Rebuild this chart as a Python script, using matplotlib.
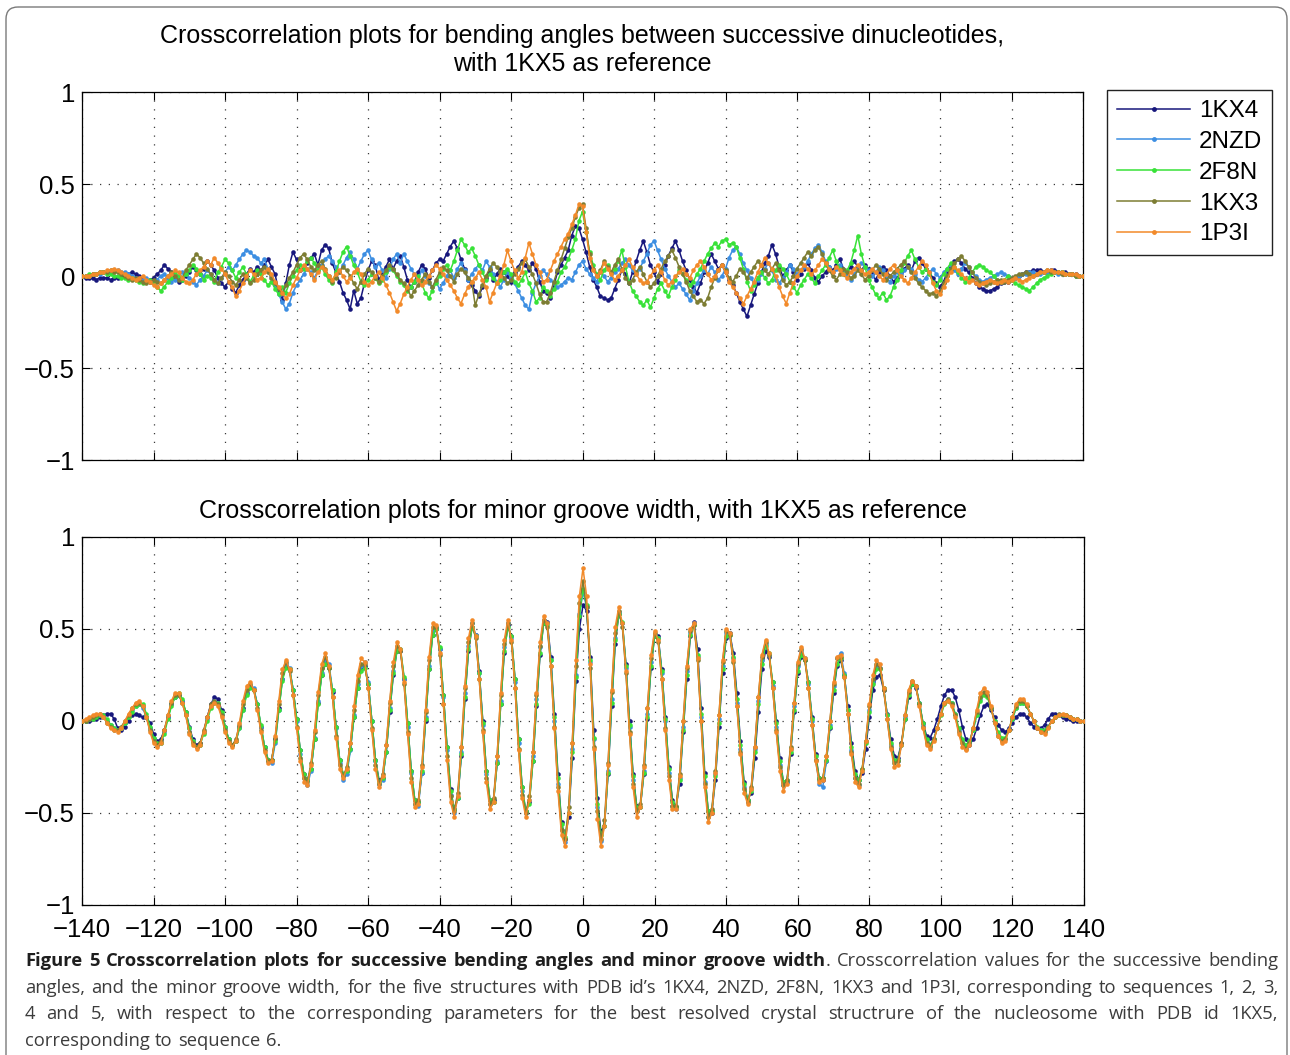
import matplotlib
matplotlib.use("Agg")
import matplotlib.pyplot as plt
import numpy as np
from matplotlib.lines import Line2D
from matplotlib.patches import FancyBboxPatch

plt.rcParams["font.family"] = ["Liberation Sans", "DejaVu Sans"]

W, H = 1290, 1055
LAGS = np.arange(-140, 141)
SERIES = ["1KX4", "2NZD", "2F8N", "1KX3", "1P3I"]
COLORS = ["#17177c", "#3c8ee2", "#38e238", "#7d7d33", "#f28a2a"]

# crosscorrelation values in hundredths, lag -140 .. 140 (one row = 10 lags)
BEND_1KX4 = [
    0, -1, -1, -1, -2, -1, -1, -1, -2, -1,
    -1, 0, 0, 1, 2, 1, 0, -1, -2, -2,
    -1, 1, 3, 6, 4, 2, -1, -3, -2, 0,
    2, 5, 3, 1, 4, 8, 6, 3, -1, -4,
    -6, -3, -7, -9, -5, -2, 1, 4, 2, 5,
    3, 6, 9, 5, 1, -8, -13, -4, 6, 13,
    9, 3, 5, 7, 10, 12, 6, 14, 17, 15,
    7, 2, -3, -9, -13, -18, -8, -15, -12, -4,
    3, 8, 6, -2, 1, 5, 9, 4, 8, 11,
    5, -2, -6, -3, 2, 6, 4, -1, 3, 7,
    9, 8, 12, 16, 19, 15, 9, 4, -2, -5,
    -8, -11, -6, -1, 3, -2, 1, 4, 2, 0,
    -3, 2, 5, 8, 6, 3, 7, 4, -3, -8,
    -9, -12, -5, 2, 6, 10, 14, 22, 27, 26,
    20,
    13, 5, -2, -6, -11, -12, -13, -12, -7, -2,
    3, 1, -4, 2, 8, 14, 19, 13, 6, 2,
    -3, 1, 6, 11, 15, 19, 14, 8, 3, -2,
    -6, -9, -4, 2, 7, 12, 8, 4, 6, 2,
    -2, -5, -9, -14, -18, -22, -16, -10, -4, 2,
    7, 11, 17, 12, 5, 0, 3, 6, 2, -2,
    1, 4, 7, 3, -1, -3, 0, 2, 5, 3,
    6, 9, 4, 2, 5, 8, 5, 3, 6, 4,
    1, -2, 2, 5, 3, 0, -3, -1, 2, 4,
    6, 3, 8, 10, 7, 4, 2, -1, -4, -6,
    -3, 2, 5, 8, 9, 7, 4, 2, -1, -4,
    -6, -7, -8, -8, -7, -6, -4, -3, -3, -2,
    -1, 0, 1, 2, 2, 3, 3, 3, 2, 2,
    3, 3, 2, 2, 2, 1, 1, 1, 0, 0,
]
BEND_2NZD = [
    0, 0, 0, 1, 1, 1, 2, 2, 2, 3,
    3, 2, 2, 1, 0, -1, -2, -2, -1, -3,
    -4, -2, 0, 1, -1, -3, -2, 0, 2, 1,
    -1, -3, -5, -2, 0, 3, 1, -2, -4, -1,
    2, 5, 3, 6, 9, 12, 14, 13, 11, 10,
    7, 9, 4, 0, -5, -10, -14, -18, -15, -9,
    -5, -2, 1, 4, 2, -1, 3, 6, 9, 11,
    8, 5, 2, 6, 10, 13, 9, 4, 8, 12,
    14, 9, 5, 7, 3, -1, 4, 9, 12, 7,
    12, 8, 4, 1, -2, 3, 0, -4, -6, -3,
    -7, -4, 0, 3, -1, 4, 7, 3, -2, 1,
    4, 6, 3, 8, 5, 1, -3, -6, -2, 2,
    -1, -4, -8, -12, -16, -18, -9, -4, 0, 3,
    1, -2, -4, -6, -5, -3, -1, -2, 2, 6,
    8,
    4, 1, -1, -3, 2, 0, -3, -1, 2, 4,
    7, 9, 6, 3, 1, 4, 8, 12, 17, 19,
    14, 9, 4, 0, -3, -6, -4, -7, -10, -13,
    -8, -4, 0, 3, 1, 5, 2, -2, 0, 4,
    10, 14, 16, 12, 7, 3, -1, -4, -2, 1,
    4, 7, 3, -2, -4, -1, 2, 6, 4, 1,
    3, 5, 8, 12, 15, 17, 13, 8, 5, 2,
    4, 6, 3, 0, -2, 1, 4, 7, 5, 3,
    0, 2, 5, 3, -1, -3, 0, 2, 1, 3,
    5, 4, 1, -2, -3, -1, 2, 4, 1, -1,
    2, 4, 6, 3, 1, 4, 7, 5, 2, 0,
    -2, -3, -2, -1, 0, 1, 2, 1, 0, -1,
    -1, 0, 1, 1, 2, 2, 1, 1, 2, 2,
    2, 2, 1, 2, 1, 1, 1, 0, 0, 0,
]
BEND_2F8N = [
    0, 0, 1, 1, 1, 2, 2, 1, 1, 0,
    0, -1, -1, -2, -1, -2, -3, -4, -3, -2,
    -4, -6, -8, -6, -3, -1, 2, 0, -2, 1,
    3, 6, 4, 1, -2, 0, -1, -3, 2, 5,
    9, 7, 3, -1, 2, 5, 1, -3, 0, 3,
    1, -2, -5, -3, -7, -10, -6, -9, -4, 0,
    3, 6, 4, 8, 10, 7, 3, 5, 1, -2,
    -4, 2, 8, 13, 16, 11, 6, 2, -3, -5,
    -2, 1, -1, -4, -2, 2, 5, 3, 0, -3,
    -5, -8, -6, -3, 0, -4, -9, -12, -8, -4,
    0, 4, 6, 3, 8, 14, 20, 17, 13, 15,
    11, 6, 2, -2, 1, -1, -4, -2, 2, 4,
    1, -3, -5, -2, 2, -4, -8, -14, -12, -6,
    -8, -11, -7, -3, 2, 5, 9, 14, 20, 30,
    35,
    24, 13, 6, 1, -2, 3, 6, 2, 4, 8,
    14, 5, -3, -8, -11, -14, -16, -13, -17, -12,
    -7, -4, -8, -11, -6, -2, 3, 1, -2, -5,
    -3, 1, 4, 8, 12, 15, 18, 16, 19, 20,
    17, 18, 16, 10, 4, -3, -8, -5, -1, 2,
    -1, -4, -2, 3, 6, 4, 1, -3, -6, -9,
    -5, -2, 1, -1, -4, 0, 3, 6, 10, 14,
    8, 4, 1, 3, 7, 14, 22, 12, 5, -2,
    -6, -10, -12, -9, -13, -11, -6, -2, 3, 7,
    11, 14, 9, 5, 2, 4, 1, -3, -5, -2,
    1, 4, 7, 5, 2, -1, -3, -1, 2, 5,
    6, 5, 3, 2, 0, -2, -3, -2, 0, -2,
    -4, -5, -6, -7, -8, -6, -4, -2, -1, 0,
    1, 2, 2, 2, 1, 1, 1, 0, 0, 0,
]
BEND_1KX3 = [
    0, 0, 0, 1, 1, 2, 2, 2, 3, 2,
    2, 1, 0, -1, -2, -1, -2, -3, -4, -3,
    -2, -3, -4, -2, 0, 2, 0, -2, -1, 3,
    6, 9, 12, 10, 7, 4, 1, -2, -4, -1,
    2, 0, -3, -5, -2, 1, -1, -4, -2, 1,
    3, 5, 2, -1, -4, -7, -9, -5, -1, 2,
    6, 10, 12, 9, 5, 3, 6, 8, 4, 0,
    -3, -1, 2, 5, 3, 0, -4, -7, -3, 1,
    4, 2, -1, -3, 0, 3, 6, 4, 1, -2,
    -4, -7, -11, -8, -5, -2, 1, -3, -6, -2,
    2, 5, 3, 0, -3, 1, 4, 2, -1, -3,
    -16, -10, -5, 0, 4, 7, 5, 2, -1, -4,
    -2, 1, 4, 7, 9, 5, 1, -4, -10, -14,
    -14, -9, -3, 3, 9, 15, 21, 26, 32, 37,
    39,
    26, 12, 4, 0, 3, 8, 5, 2, 6, 9,
    4, -1, -4, -2, 2, 5, 1, -3, -6, -4,
    0, 4, 8, 11, 14, 10, 5, 1, -3, -8,
    -11, -14, -13, -15, -12, -6, -1, 3, 6, 3,
    -1, -3, 0, 4, 2, -1, 2, 5, 8, 6,
    3, 1, 4, 7, 3, -2, -5, -3, 0, 4,
    7, 10, 13, 11, 14, 16, 12, 7, 3, 0,
    -2, 1, 4, 2, -1, 0, 3, 1, -2, 0,
    3, 6, 4, 1, -2, 0, 2, 4, 6, 8,
    5, 2, -1, -4, -6, -8, -10, -9, -11, -8,
    -4, 0, 4, 7, 9, 11, 8, 5, 2, -1,
    -3, -4, -5, -4, -3, -2, -2, -3, -2, -1,
    0, 1, 1, 2, 1, 0, 1, 2, 2, 3,
    2, 2, 2, 1, 1, 1, 1, 0, 0, 0,
]
BEND_1P3I = [
    0, 0, 0, 1, 1, 2, 2, 3, 3, 4,
    3, 2, 1, 0, -1, -2, -1, 0, -2, -3,
    -5, -6, -4, -2, 0, 1, 3, 2, -1, -3,
    -4, -2, 1, 3, 5, 8, 6, 10, 7, 4,
    1, -3, -6, -11, -8, -4, 0, 3, 1, -2,
    -1, 2, 4, 1, -3, -6, -9, -12, -10, -5,
    -1, 3, 6, 4, 1, -2, 2, 5, 3, 0,
    -2, 1, 3, 0, -3, -1, 2, 4, 1, -3,
    -5, -3, 0, 2, -1, -5, -9, -14, -19, -15,
    -10, -6, -2, 1, -2, -5, -3, 0, 3, 6,
    4, 1, -2, -5, -8, -12, -15, -10, -6, -3,
    -1, 2, -2, -6, -14, -9, -4, 0, 6, 14,
    8, 3, -1, 2, 10, 18, 12, 6, 2, -3,
    -2, 3, 8, 12, 16, 20, 23, 28, 33, 39,
    38,
    24, 10, 3, 0, 2, 7, 4, 1, -2, 0,
    3, 6, 9, 5, 1, -2, -4, -3, 0, 3,
    6, 2, -2, -5, -3, 0, 2, 4, 1, -1,
    3, 6, 8, 5, 1, -2, 0, 3, 6, 2,
    -3, -6, -9, -12, -15, -11, -7, -3, 2, 6,
    10, 7, 4, 0, -6, -11, -15, -9, -4, 0,
    3, 6, 4, 1, 3, 6, 9, 7, 4, 2,
    5, 3, 1, -1, 2, 4, 6, 3, 1, 2,
    4, 2, 0, -2, 1, 4, 6, 3, 0, -2,
    -4, -1, 2, 5, 8, 6, 2, -4, -8, -10,
    -6, -2, 2, 5, 3, 1, -1, -3, -2, -4,
    -5, -4, -3, -2, -3, -4, -3, -2, -3, -2,
    -1, -2, -3, -2, -1, 0, 1, 2, 2, 3,
    3, 2, 2, 2, 1, 1, 1, 1, 0, 0,
]

GROOVE_1KX4 = [
    0, 0, 0, 1, 1, 2, 3, 4, 4, 1,
    -4, -5, -3, 0, 3, 4, 3, 2, 2, -1,
    -7, -11, -10, -5, 2, 9, 13, 14, 11, 5,
    -3, -10, -13, -12, -6, 2, 9, 13, 12, 6,
    -3, -10, -13, -11, -3, 7, 15, 19, 17, 9,
    -3, -14, -21, -21, -10, 7, 23, 30, 28, 17,
    1, -16, -29, -32, -26, -10, 10, 25, 31, 29,
    16, -3, -21, -29, -27, -15, 2, 18, 28, 30,
    20, 0, -21, -32, -31, -17, 5, 25, 38, 38,
    23, -1, -27, -43, -44, -28, 0, 28, 47, 50,
    39, 14, -14, -37, -48, -42, -19, 12, 38, 51,
    47, 27, 0, -27, -43, -43, -23, 9, 37, 52,
    46, 23, -10, -36, -49, -44, -22, 8, 36, 53,
    54, 35, 4, -29, -55, -64, -52, -20, 22, 50,
    63,
    60, 35, -5, -42, -60, -57, -29, 8, 42, 58,
    53, 31, 0, -29, -46, -47, -29, 1, 29, 46,
    46, 28, 2, -25, -43, -47, -34, -6, 23, 46,
    54, 39, 7, -28, -49, -50, -32, -3, 26, 45,
    48, 37, 15, -11, -33, -43, -39, -20, 5, 28,
    38, 35, 21, 0, -20, -33, -33, -18, 5, 26,
    35, 33, 21, 2, -18, -31, -32, -22, -4, 15,
    30, 33, 25, 8, -12, -27, -32, -28, -15, 2,
    17, 24, 25, 17, 4, -10, -19, -20, -12, 1,
    13, 20, 18, 10, -1, -8, -9, -5, 1, 8,
    14, 17, 17, 13, 6, -3, -10, -13, -10, -4,
    3, 8, 9, 6, 2, -2, -5, -6, -4, -1,
    2, 4, 4, 2, -1, -3, -4, -4, -2, 1,
    4, 4, 3, 2, 1, 1, 0, 0, 0, 0,
]
GROOVE_2NZD = [
    0, 0, 1, 2, 3, 3, 2, 0, -2, -4,
    -5, -4, -1, 3, 6, 8, 9, 7, 2, -4,
    -10, -13, -12, -6, 2, 9, 13, 14, 11, 4,
    -4, -11, -14, -13, -6, 1, 8, 11, 10, 4,
    -4, -10, -13, -11, -4, 6, 15, 19, 18, 9,
    -3, -14, -22, -23, -12, 6, 23, 31, 29, 17,
    0, -18, -31, -35, -27, -9, 11, 26, 33, 31,
    17, -4, -23, -32, -29, -16, 3, 20, 30, 32,
    21, 0, -22, -34, -32, -17, 7, 27, 39, 39,
    23, -3, -28, -45, -46, -28, 2, 30, 49, 51,
    39, 13, -16, -40, -50, -42, -17, 15, 41, 53,
    47, 26, -2, -29, -45, -44, -22, 11, 40, 53,
    45, 21, -12, -38, -50, -43, -19, 12, 40, 55,
    53, 33, 0, -34, -59, -66, -50, -15, 25, 58,
    70,
    62, 32, -10, -47, -65, -57, -27, 12, 45, 59,
    53, 29, -3, -32, -49, -47, -27, 4, 32, 47,
    45, 26, 0, -28, -46, -48, -31, -3, 27, 48,
    53, 35, 2, -33, -52, -49, -29, 1, 30, 48,
    48, 34, 10, -15, -36, -44, -37, -15, 11, 33,
    42, 36, 19, -3, -24, -35, -33, -15, 8, 30,
    38, 34, 20, 0, -21, -34, -36, -22, -2, 19,
    34, 37, 26, 6, -16, -31, -35, -27, -11, 6,
    22, 30, 29, 18, 3, -13, -22, -22, -13, 2,
    15, 21, 19, 10, -2, -11, -13, -10, -4, 4,
    10, 12, 10, 4, -5, -11, -14, -12, -5, 3,
    12, 15, 14, 7, 0, -7, -10, -10, -5, 1,
    7, 10, 10, 8, 4, 0, -4, -5, -5, -3,
    0, 2, 3, 3, 3, 2, 1, 1, 0, 0,
]
GROOVE_2F8N = [
    0, 0, 1, 1, 2, 3, 3, 1, -2, -4,
    -5, -4, -1, 2, 5, 8, 9, 9, 4, -3,
    -9, -12, -12, -7, 1, 8, 13, 15, 12, 5,
    -4, -11, -14, -13, -7, 0, 7, 10, 10, 5,
    -3, -10, -13, -11, -4, 6, 14, 18, 17, 9,
    -2, -14, -21, -21, -11, 6, 22, 29, 28, 17,
    1, -16, -29, -32, -26, -10, 9, 25, 31, 29,
    17, -3, -21, -29, -27, -15, 2, 18, 27, 29,
    20, 0, -21, -33, -31, -17, 6, 26, 38, 39,
    24, -1, -27, -43, -44, -27, 1, 28, 47, 50,
    40, 14, -14, -38, -48, -42, -18, 13, 39, 51,
    46, 26, -1, -27, -43, -44, -23, 9, 38, 51,
    46, 23, -10, -36, -49, -45, -22, 9, 37, 53,
    52, 33, 2, -31, -56, -63, -50, -17, 24, 57,
    72,
    63, 33, -9, -45, -62, -57, -28, 10, 44, 58,
    54, 30, -2, -30, -47, -47, -28, 2, 30, 46,
    45, 27, 1, -26, -44, -47, -32, -5, 25, 47,
    52, 36, 4, -30, -49, -49, -30, -1, 28, 46,
    47, 35, 12, -13, -34, -43, -38, -17, 9, 31,
    41, 37, 21, -1, -22, -33, -32, -17, 6, 27,
    36, 33, 21, 1, -19, -31, -31, -21, -3, 17,
    31, 34, 25, 6, -14, -29, -32, -26, -12, 5,
    20, 28, 28, 18, 3, -12, -21, -21, -13, 1,
    14, 20, 19, 10, -1, -10, -13, -10, -4, 3,
    9, 11, 10, 4, -4, -10, -13, -11, -5, 3,
    11, 14, 13, 7, 0, -6, -9, -9, -5, 1,
    7, 10, 10, 8, 4, 0, -3, -5, -5, -3,
    0, 2, 3, 3, 3, 2, 1, 1, 0, 0,
]
GROOVE_1KX3 = [
    0, 0, 1, 2, 3, 4, 2, -1, -3, -5,
    -5, -3, 0, 3, 7, 9, 10, 8, 2, -5,
    -11, -13, -11, -5, 3, 10, 14, 14, 10, 3,
    -6, -12, -14, -12, -5, 2, 9, 11, 9, 3,
    -5, -11, -13, -10, -2, 9, 17, 20, 17, 7,
    -5, -16, -22, -21, -9, 9, 26, 32, 27, 14,
    -3, -20, -31, -33, -23, -6, 14, 29, 35, 29,
    13, -8, -24, -30, -25, -12, 6, 22, 31, 31,
    18, -4, -24, -34, -29, -13, 10, 30, 41, 38,
    20, -6, -31, -45, -43, -24, 5, 33, 51, 51,
    36, 9, -19, -41, -49, -39, -14, 18, 43, 53,
    45, 23, -5, -31, -45, -42, -19, 14, 42, 53,
    43, 18, -15, -40, -50, -41, -17, 14, 41, 55,
    51, 30, -3, -36, -59, -64, -47, -12, 30, 64,
    76,
    62, 29, -14, -49, -64, -54, -23, 16, 48, 60,
    51, 26, -6, -34, -49, -45, -24, 7, 34, 48,
    43, 23, -4, -30, -46, -46, -29, 0, 29, 49,
    52, 33, 0, -34, -52, -48, -27, 3, 32, 49,
    47, 32, 8, -17, -37, -44, -36, -14, 13, 35,
    43, 36, 18, -5, -25, -35, -32, -14, 10, 31,
    39, 33, 18, -2, -21, -32, -31, -19, 0, 20,
    34, 35, 24, 4, -17, -31, -34, -26, -11, 8,
    23, 31, 29, 17, 1, -14, -23, -22, -12, 3,
    16, 22, 19, 9, -3, -12, -14, -10, -4, 4,
    10, 12, 9, 3, -6, -12, -15, -12, -4, 5,
    13, 16, 14, 7, -1, -8, -11, -10, -5, 2,
    8, 11, 11, 8, 4, 0, -4, -6, -6, -3,
    0, 2, 4, 3, 3, 2, 1, 1, 0, 0,
]
GROOVE_1P3I = [
    0, 1, 2, 3, 4, 4, 2, -1, -4, -5,
    -6, -4, 0, 4, 7, 10, 11, 8, 2, -6,
    -12, -14, -12, -5, 3, 11, 15, 15, 10, 3,
    -7, -13, -15, -13, -6, 2, 8, 10, 8, 2,
    -6, -12, -14, -11, -1, 11, 19, 21, 17, 6,
    -6, -17, -23, -22, -8, 11, 28, 33, 28, 14,
    -4, -22, -33, -35, -24, -5, 16, 31, 37, 30,
    13, -9, -26, -31, -26, -12, 8, 25, 34, 32,
    18, -5, -26, -36, -30, -13, 11, 32, 43, 39,
    21, -7, -33, -47, -45, -25, 6, 35, 53, 52,
    37, 9, -21, -44, -52, -41, -14, 19, 45, 55,
    46, 23, -6, -33, -48, -44, -19, 15, 44, 55,
    44, 18, -16, -42, -52, -43, -17, 15, 43, 57,
    53, 30, -4, -38, -62, -68, -50, -12, 33, 68,
    83,
    68, 31, -15, -53, -68, -57, -24, 17, 51, 62,
    53, 27, -7, -36, -52, -47, -25, 7, 36, 49,
    44, 23, -5, -32, -48, -48, -30, 0, 30, 50,
    53, 34, 0, -36, -55, -50, -28, 3, 33, 50,
    48, 33, 8, -18, -39, -45, -37, -14, 13, 36,
    44, 37, 18, -6, -27, -38, -34, -15, 10, 32,
    40, 34, 18, -2, -22, -33, -32, -19, 0, 21,
    35, 36, 24, 4, -18, -33, -36, -27, -11, 9,
    25, 33, 31, 18, 1, -15, -25, -24, -13, 3,
    17, 22, 19, 8, -4, -13, -15, -11, -4, 4,
    10, 11, 8, 2, -7, -14, -16, -13, -4, 6,
    15, 18, 16, 8, -1, -8, -12, -11, -5, 2,
    9, 12, 12, 9, 4, 0, -4, -6, -7, -4,
    0, 2, 3, 4, 3, 2, 1, 1, 0, 0,
]

BEND = [BEND_1KX4, BEND_2NZD, BEND_2F8N, BEND_1KX3, BEND_1P3I]
GROOVE = [GROOVE_1KX4, GROOVE_2NZD, GROOVE_2F8N, GROOVE_1KX3, GROOVE_1P3I]

TITLE_TOP = ("Crosscorrelation plots for bending angles between successive dinucleotides,\n"
             "with 1KX5 as reference")
TITLE_BOTTOM = "Crosscorrelation plots for minor groove width, with 1KX5 as reference"
XTICKS = list(range(-140, 141, 20))
YTICKS = [-1, -0.5, 0, 0.5, 1]
YTICK_LABELS = ["\u22121", "\u22120.5", "0", "0.5", "1"]

CAPTION = [
    [("Figure 5 Crosscorrelation plots for successive bending angles and minor groove width", True),
     (". Crosscorrelation values for the successive bending", False)],
    [("angles, and the minor groove width, for the five structures with PDB id\u2019s 1KX4, 2NZD, "
      "2F8N, 1KX3 and 1P3I, corresponding to sequences 1, 2, 3,", False)],
    [("4 and 5, with respect to the corresponding parameters for the best resolved crystal "
      "structrure of the nucleosome with PDB id 1KX5,", False)],
    [("corresponding to sequence 6.", False)],
]


def px_axes(fig, left, top, right, bottom):
    return fig.add_axes([left / W, 1 - bottom / H, (right - left) / W, (bottom - top) / H])


def style_axes(ax, show_xlabels):
    ax.set_xlim(-140, 140)
    ax.set_ylim(-1, 1)
    ax.set_xticks(XTICKS)
    ax.set_yticks(YTICKS)
    ax.set_yticklabels(YTICK_LABELS)
    if not show_xlabels:
        ax.set_xticklabels([])
    ax.tick_params(direction="in", top=True, right=True, length=6, width=0.8,
                   labelsize=18.5, pad=5)
    ax.tick_params(axis="x", pad=9.5)
    ax.grid(True, color="#3a3a3a", linestyle=(0, (1, 6)), linewidth=0.9)
    for sp in ax.spines.values():
        sp.set_linewidth(0.9)


def tokens(line):
    out = []
    for text, bold in line:
        for i, part in enumerate(text.split(" ")):
            if not part:
                continue
            gap = bool(out) and (i > 0 or text.startswith(" "))
            out.append((part, bold, gap))
    return out


def main():
    for arr in BEND + GROOVE:
        assert len(arr) == len(LAGS), len(arr)

    fig = plt.figure(figsize=(W / 100, H / 100), dpi=100)
    bg = fig.add_axes([0, 0, 1, 1], zorder=-5)
    bg.set_xlim(0, W)
    bg.set_ylim(H, 0)
    bg.axis("off")
    bg.add_patch(FancyBboxPatch((6, 7), W - 9, H + 40, boxstyle="round,pad=0,rounding_size=12",
                                fill=False, ec="#7a7a7a", lw=1.0, clip_on=False))

    ax1 = px_axes(fig, 82, 92, 1083, 460)
    ax2 = px_axes(fig, 82, 537, 1084, 905)

    for ax, data in ((ax1, BEND), (ax2, GROOVE)):
        for vals, color in zip(data, COLORS):
            ax.plot(LAGS, np.asarray(vals, dtype=float) / 100.0, color=color, lw=1.1,
                    marker="o", ms=3.3, mew=0, zorder=3)

    style_axes(ax1, False)
    style_axes(ax2, True)
    ax1.set_title(TITLE_TOP, fontsize=18, linespacing=1.2, pad=15)
    ax2.set_title(TITLE_BOTTOM, fontsize=18, pad=14)

    handles = [Line2D([], [], color=c, marker="o", ms=3.5, mew=0, lw=1.1) for c in COLORS]
    leg = fig.legend(handles, SERIES, loc="upper left",
                     bbox_to_anchor=(1107 / W, 1 - 90 / H), frameon=True, fancybox=False,
                     edgecolor="#222222", framealpha=1, fontsize=17.5, handlelength=3.0,
                     handletextpad=0.35, labelspacing=0.36, borderpad=0.42, borderaxespad=0)
    leg.get_frame().set_linewidth(1.0)

    # caption, justified like the journal page
    renderer = fig.canvas.get_renderer()
    x0, x1 = 25, 1278
    for row, line in enumerate(CAPTION):
        y = 961 + 26.7 * row
        toks = tokens(line)
        arts = []
        for word, bold, _ in toks:
            arts.append(bg.text(0, y, word, fontsize=13.2, family=["Open Sans", "DejaVu Sans"],
                                fontweight="bold" if bold else "normal",
                                color="#1e1e1e" if bold else "#3c3c3c",
                                ha="left", va="center"))
        widths = [t.get_window_extent(renderer).width for t in arts]
        ngaps = sum(1 for _, _, g in toks if g)
        if row < len(CAPTION) - 1 and ngaps:
            space = (x1 - x0 - sum(widths)) / ngaps
        else:
            space = 5.4
        x = x0
        for t, w, (_, _, g) in zip(arts, widths, toks):
            if g:
                x += space
            t.set_x(x)
            x += w

    fig.savefig("out.png", dpi=100)


if __name__ == "__main__":
    main()
